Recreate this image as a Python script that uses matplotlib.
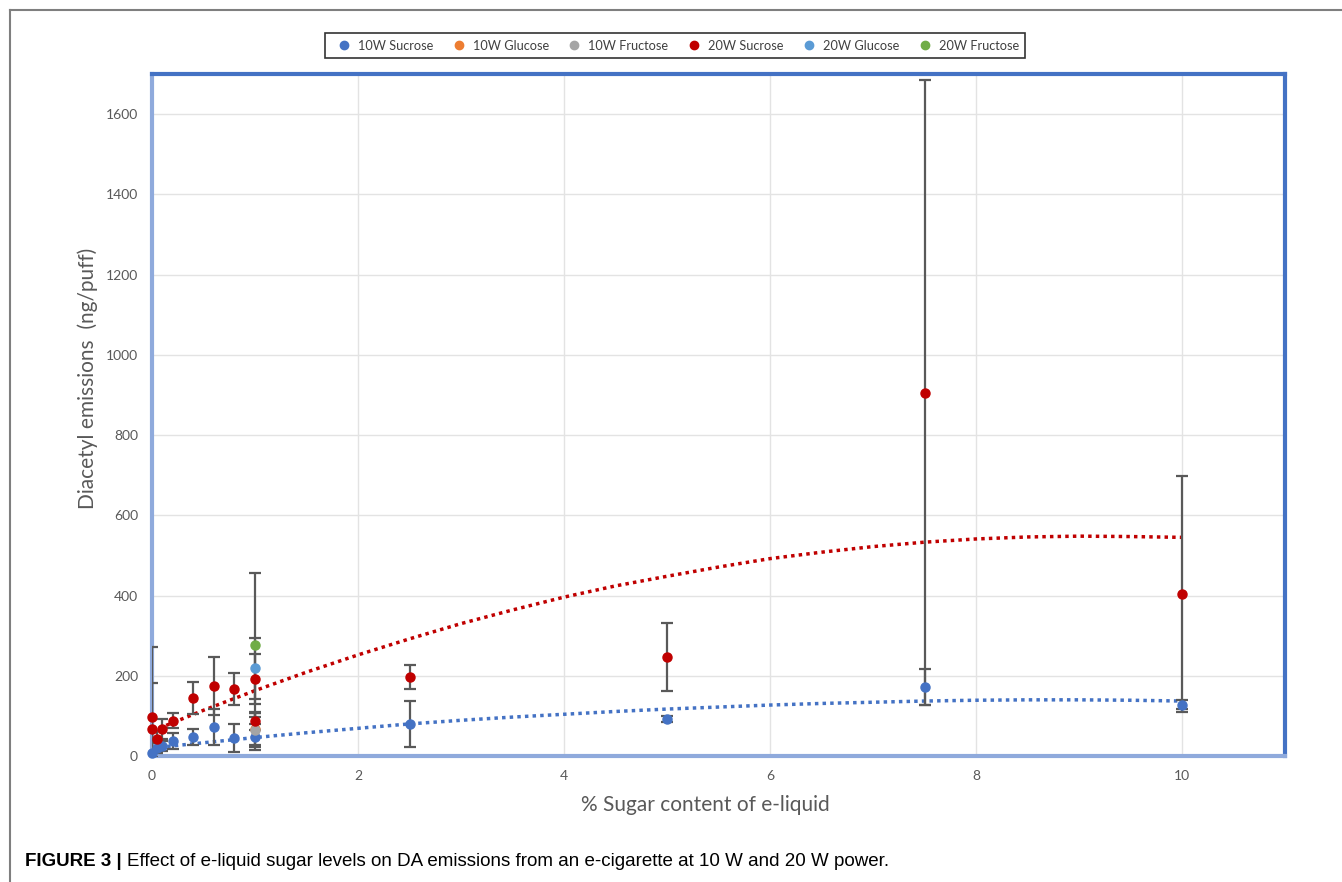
import matplotlib
matplotlib.use("Agg")
import matplotlib.pyplot as plt
from matplotlib.lines import Line2D

plt.rcParams["font.family"] = ["Lato", "DejaVu Sans"]

# 10W sucrose
s10_x = [0, 0.05, 0.1, 0.2, 0.4, 0.6, 0.8, 1, 2.5, 5, 7.5, 10]
s10_y = [8, 20, 25, 37, 47, 72, 45, 47, 80, 92, 172, 128]
s10_err = [10, 12, 12, 20, 20, 45, 35, 32, 58, 8, 45, 12]
# 10W glucose / fructose
g10_x, g10_y, g10_err = [1], [68], [40]
f10_x, f10_y, f10_err = [1], [65], [43]
# 20W sucrose
s20_x = [0, 0, 0.05, 0.1, 0.2, 0.4, 0.6, 0.8, 1, 1, 2.5, 5, 7.5, 10]
s20_y = [97, 67, 42, 67, 88, 145, 175, 167, 192, 88, 197, 247, 906, 404]
s20_err = [175, 115, 20, 25, 19, 40, 72, 40, 62, 22, 30, 85, 780, 295]
# 20W glucose / fructose
g20_x, g20_y, g20_err = [1], [219], [76]
f20_x, f20_y, f20_err = [1], [277], [180]

# trendlines
trend_x = [0, 0.5, 1, 1.5, 2, 2.5, 3, 3.5, 4, 4.5, 5, 5.5, 6, 6.5, 7, 7.5, 8, 8.5, 9, 9.5, 10]
red_trend = [62, 114, 163, 209, 252, 292, 330, 364, 396, 424, 448, 471, 492, 508, 522, 533, 541, 546, 548, 547, 545]
blue_trend = [20, 33, 46, 58, 69, 80, 89, 97, 104, 111, 117, 122, 127, 131, 134, 137, 139, 140, 140, 139, 137]

series = [
    ("10W Sucrose", s10_x, s10_y, s10_err, "#4472C4"),
    ("10W Glucose", g10_x, g10_y, g10_err, "#ED7D31"),
    ("10W Fructose", f10_x, f10_y, f10_err, "#A5A5A5"),
    ("20W Sucrose", s20_x, s20_y, s20_err, "#C00000"),
    ("20W Glucose", g20_x, g20_y, g20_err, "#5B9BD5"),
    ("20W Fructose", f20_x, f20_y, f20_err, "#70AD47"),
]

fig = plt.figure(figsize=(13.42, 8.82), dpi=100)
ax = fig.add_axes([152 / 1342, 1 - 756 / 882, (1285 - 152) / 1342, (756 - 74) / 882])

ax.set_xlim(0, 11)
ax.set_ylim(0, 1700)
ax.set_xticks([0, 2, 4, 6, 8, 10])
ax.set_yticks(range(0, 1601, 200))
ax.grid(True, color="#e3e3e3", linewidth=1)
ax.set_axisbelow(True)
ax.tick_params(length=0, labelsize=10, labelcolor="#595959", pad=10)

for side in ["top", "right"]:
    ax.spines[side].set_color("#4472C4")
    ax.spines[side].set_linewidth(3)
for side in ["left", "bottom"]:
    ax.spines[side].set_color("#8FAADC")
    ax.spines[side].set_linewidth(3)

ax.plot(trend_x, red_trend, color="#C00000", linewidth=2.5, linestyle=(0, (1, 1.2)), zorder=2)
ax.plot(trend_x, blue_trend, color="#4472C4", linewidth=2.5, linestyle=(0, (1, 1.2)), zorder=2)

handles = []
for name, x, y, err, color in series:
    ax.errorbar(x, y, yerr=err, fmt="none", ecolor="#595959", elinewidth=1.6,
                capsize=4, capthick=1.6, zorder=3)
    ax.plot(x, y, "o", color=color, markersize=6.5, zorder=4, clip_on=False)
    handles.append(Line2D([], [], marker="o", linestyle="none", color=color,
                          markersize=6, label=name))

leg = fig.legend(handles=handles, loc="center", bbox_to_anchor=(675 / 1342, 1 - 45.5 / 882),
                 ncol=6, fontsize=9.2, frameon=True, fancybox=False, edgecolor="black",
                 handletextpad=0.1, columnspacing=1.0, borderpad=0.5)
leg.get_frame().set_linewidth(1.2)
for t in leg.get_texts():
    t.set_color("#404040")

fig.text(88 / 1342, 1 - 378 / 882, "Diacetyl emissions  (ng/puff)", rotation=90,
         ha="center", va="center", fontsize=15, color="#595959")
fig.text(705 / 1342, 1 - 805 / 882, "% Sugar content of e-liquid",
         ha="center", va="center", fontsize=15, color="#595959")

# outer chart frame
fig.add_artist(Line2D([10 / 1342, 10 / 1342], [0, 1 - 10 / 882], transform=fig.transFigure,
                      color="#7f7f7f", linewidth=1.5))
fig.add_artist(Line2D([10 / 1342, 1], [1 - 10 / 882, 1 - 10 / 882], transform=fig.transFigure,
                      color="#7f7f7f", linewidth=1.5))

# caption
cap1 = fig.text(25 / 1342, 1 - 866 / 882, "FIGURE 3 | ", fontsize=13.5, fontweight="bold",
                family="Liberation Sans", va="baseline")
fig.canvas.draw()
bb = cap1.get_window_extent(fig.canvas.get_renderer())
fig.text(bb.x1 / 1342, 1 - 866 / 882,
         "Effect of e-liquid sugar levels on DA emissions from an e-cigarette at 10 W and 20 W power.",
         fontsize=13.5, family="Liberation Sans", va="baseline")

fig.savefig("out.png", dpi=100)
